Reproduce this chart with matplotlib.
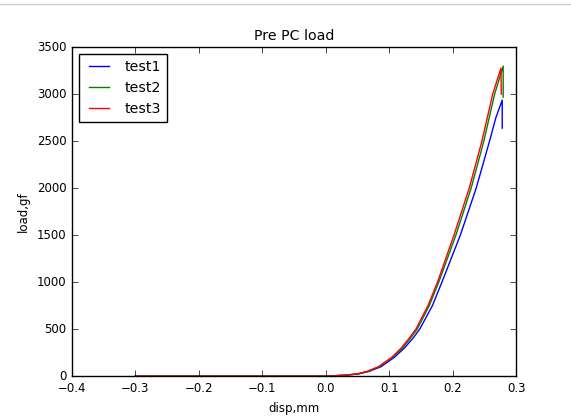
import matplotlib
matplotlib.use('Agg')
import matplotlib.pyplot as plt
from matplotlib.lines import Line2D

plt.style.use('classic')
plt.rcParams['font.size'] = 8.5

# displacement (mm) and load (gf)
disp1 = [-0.3, -0.1, 0.0, 0.032, 0.053, 0.068, 0.087, 0.108, 0.124, 0.137, 0.148, 0.168,
         0.183, 0.212, 0.237, 0.258, 0.268, 0.278, 0.278]
load1 = [0, 0, 0, 10, 25, 50, 100, 200, 300, 400, 500, 750,
         1000, 1500, 2000, 2500, 2750, 2936, 2638]

disp2 = [-0.3, -0.1, 0.0, 0.031, 0.051, 0.066, 0.084, 0.105, 0.121, 0.133, 0.144, 0.163,
         0.178, 0.205, 0.229, 0.249, 0.266, 0.2795, 0.2795]
load2 = [0, 0, 0, 10, 25, 50, 100, 200, 300, 400, 500, 750,
         1000, 1500, 2000, 2500, 3000, 3298, 2968]

disp3 = [-0.3, -0.1, 0.0, 0.03, 0.05, 0.065, 0.083, 0.104, 0.119, 0.131, 0.142, 0.161,
         0.176, 0.202, 0.226, 0.246, 0.263, 0.276, 0.2765]
load3 = [0, 0, 0, 10, 25, 50, 100, 200, 300, 400, 500, 750,
         1000, 1500, 2000, 2500, 3000, 3277, 3000]

fig = plt.figure(figsize=(5.71, 4.17), dpi=100, facecolor='white')
ax = fig.add_axes([0.126, 0.098, 0.778, 0.789])
ax.set_facecolor('white')

ax.plot(disp1, load1, 'b', label='test1')
ax.plot(disp2, load2, 'g', label='test2')
ax.plot(disp3, load3, 'r', label='test3')

ax.set_xlim(-0.4, 0.3)
ax.set_ylim(0, 3500)
ax.set_title('Pre PC load')
ax.set_xlabel('disp,mm')
ax.set_ylabel('load,gf')
ax.legend(loc='upper left')

# thin grey line along the top of the screenshot
fig.add_artist(Line2D([0, 1], [0.99, 0.99], color='#cccccc', lw=1))

fig.savefig('out.png', dpi=100, facecolor='white')
